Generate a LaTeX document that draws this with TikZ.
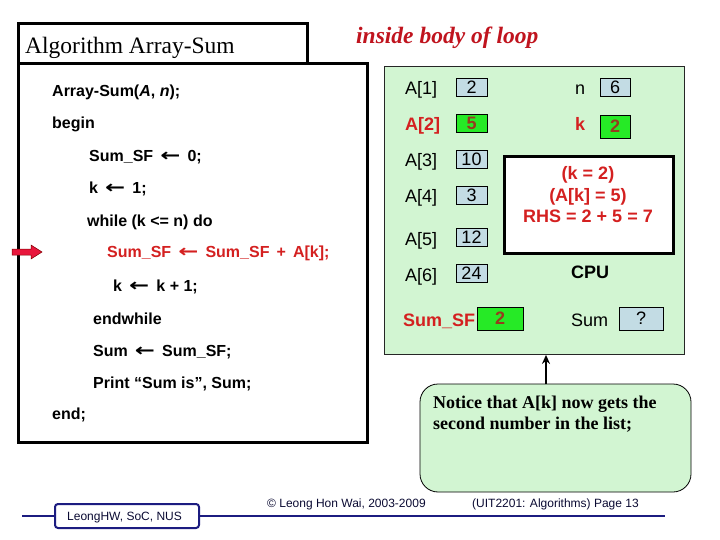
\documentclass[tikz,border=0pt]{standalone}
\usepackage{graphicx}
\usepackage{fontspec}
\setmainfont{Liberation Serif}
\setsansfont{Liberation Sans}
\newfontfamily\arrowfont{DejaVu Sans}
\newcommand{\getsarrow}{\,{\arrowfont\bfseries\scalebox{1.5}[1.1]{←}}\,}
\usetikzlibrary{arrows.meta}
\definecolor{panelgreen}{HTML}{D2F5D2}
\definecolor{valblue}{HTML}{C3DCE4}
\definecolor{valgreen}{HTML}{26EA26}
\definecolor{valtext}{HTML}{963C1E}
\definecolor{hired}{HTML}{D42020}
\definecolor{titlered}{HTML}{C0141E}
\definecolor{navy}{HTML}{1C1C80}
\definecolor{arrowred}{HTML}{E8163C}
\tikzset{
  heavybox/.style={draw=black, line width=3pt},
  code/.style={anchor=base west, inner sep=0pt, font=\sffamily\bfseries\fontsize{16}{19}\selectfont},
  lbl/.style={anchor=base west, inner sep=0pt, font=\sffamily\fontsize{18}{21}\selectfont},
  redlbl/.style={anchor=base west, inner sep=0pt, text=hired, font=\sffamily\bfseries\fontsize{18}{21}\selectfont},
  bluebox/.style={draw=black, line width=0.8pt, fill=valblue, inner sep=0pt, minimum width=31pt, minimum height=18pt, font=\sffamily\fontsize{18}{21}\selectfont},
  greenbox/.style={draw=black, line width=0.8pt, fill=valgreen, inner sep=0pt, minimum width=31pt, minimum height=18pt, text=valtext, font=\sffamily\bfseries\fontsize{18}{21}\selectfont},
  foot/.style={anchor=base west, inner sep=0pt, text=navy!40!black, font=\sffamily\fontsize{12}{14}\selectfont}
}
\begin{document}
\begin{tikzpicture}[x=1pt,y=-1pt]
\useasboundingbox (0,0) rectangle (720,540);
\fill[white] (0,0) rectangle (720,540);

% code box and title box
\draw[heavybox] (18,64) rectangle (367,442);
\draw[heavybox] (18,24) rectangle (307,64);
\node[anchor=base west, inner sep=0pt, font=\fontsize{23.5}{26}\selectfont] (title) at (25,54) {Algorithm Array-Sum};
\node[anchor=base west, inner sep=0pt, text=titlered, font=\bfseries\itshape\fontsize{23.5}{26}\selectfont] (inside) at (356,44) {inside body of loop};

% code lines
\node[code] (c1) at (52,97) {Array-Sum(\textit{A}, \textit{n});};
\node[code] (c2) at (52,129) {begin};
\node[code] (c3) at (89,162) {Sum\_SF \getsarrow{} 0;};
\node[code] (c4) at (89,194) {k \getsarrow{} 1;};
\node[code] (c5) at (87,226) {while (k <= n) do};
\node[code, text=hired] (c6) at (107,258) {Sum\_SF \getsarrow{} Sum\_SF \,+\, A[k];};
\node[code] (c7) at (113,291) {k \getsarrow{} k + 1;};
\node[code] (c8) at (93,324) {endwhile};
\node[code] (c9) at (93,356) {Sum \getsarrow{} Sum\_SF;};
\node[code] (c10) at (93,388) {Print “Sum is”, Sum;};
\node[code] (c11) at (52,419) {end;};

% red pointer arrow
\draw[fill=arrowred, draw=red!50!black, line width=0.5pt]
  (12,249) -- (31,249) -- (31,245) -- (42,252) -- (31,259) -- (31,255) -- (12,255) -- cycle;

% memory / CPU panel
\node[draw=black!85, line width=0.8pt, fill=panelgreen, minimum width=300pt, minimum height=288pt, inner sep=0pt] (panel) at (534.5,210.5) {};

\node[lbl] (la1) at (405,95) {A[1]};
\node[redlbl] (la2) at (405,131) {A[2]};
\node[lbl] (la3) at (405,167) {A[3]};
\node[lbl] (la4) at (405,203) {A[4]};
\node[lbl] (la5) at (405,245) {A[5]};
\node[lbl] (la6) at (405,281) {A[6]};
\node[redlbl] (lsf) at (403,326) {Sum\_SF};
\node[lbl] (ln) at (575,95) {n};
\node[redlbl] (lk) at (575,131) {k};
\node[lbl] (lsum) at (571,326) {Sum};

\node[bluebox] (v1) at (471.5,87) {2};
\node[greenbox] (v2) at (471.5,123) {5};
\node[bluebox] (v3) at (471.5,159) {10};
\node[bluebox] (v4) at (471.5,195) {3};
\node[bluebox] (v5) at (471.5,237) {12};
\node[bluebox] (v6) at (471.5,273) {24};
\node[bluebox, minimum width=30pt] (vn) at (615,87) {6};
\node[greenbox, minimum width=30pt, minimum height=23pt] (vk) at (615,126.5) {2};
\node[greenbox, minimum width=46pt, minimum height=23pt] (vsf) at (500,318.5) {2};
\node[bluebox, minimum width=44pt, minimum height=23pt] (vsum) at (641,318.5) {?};

\node[draw=black, line width=3pt, fill=white, minimum width=169pt, minimum height=96pt, inner sep=0pt] (rhsbox) at (588.5,205) {};
\node[text=hired, align=center, inner sep=0pt, font=\sffamily\bfseries\fontsize{18}{21.5}\selectfont] (rhs) at (588,195) {(k = 2)\\(A[k] = 5)\\RHS = 2 + 5 = 7};
\node[inner sep=0pt, font=\sffamily\bfseries\fontsize{18}{21}\selectfont] (cpu) at (590,272) {CPU};

% callout
\node[draw=black, line width=0.8pt, fill=panelgreen, rounded corners=18pt, minimum width=271pt, minimum height=108pt, inner sep=0pt] (callout) at (555.5,438) {};
\node[anchor=north west, align=left, inner sep=0pt, font=\bfseries\fontsize{18}{21}\selectfont] (note) at (433,396) {Notice that A[k] now gets the\\second number in the list;};
\coordinate (foot) at (546,384);
\draw[line width=1.8pt, -{Stealth[length=9pt,width=8pt]}] (foot) -- (foot |- panel.south);

% footer
\node[draw=navy, line width=2pt, rounded corners=3pt, minimum width=144pt, minimum height=24pt, inner sep=0pt] (fbox) at (127,516) {};
\node[foot] (fleft) at (67,520) {LeongHW, SoC, NUS};
\coordinate (fl) at (22,516);
\coordinate (fr) at (665,516);
\draw[navy, line width=2pt] (fl) -- (fbox.west);
\draw[navy, line width=2pt] (fbox.east) -- (fr);
\node[foot] (fcopy) at (267,507) {© Leong Hon Wai, 2003-2009};
\node[foot] (fpage) at (472,507) {(UIT2201: Algorithms) Page 13};
\end{tikzpicture}
\end{document}
